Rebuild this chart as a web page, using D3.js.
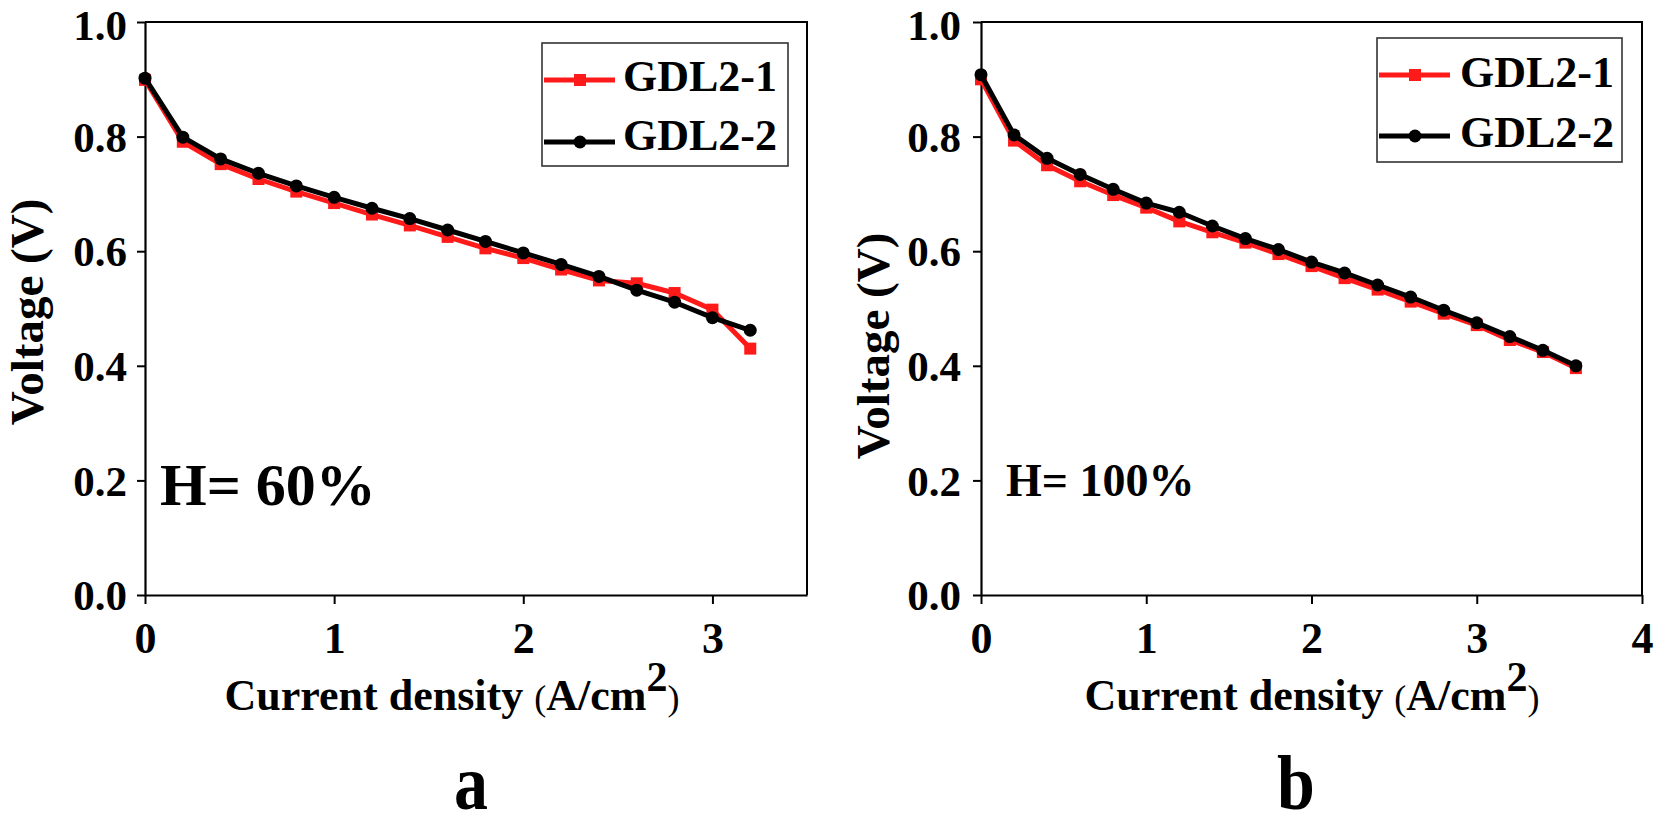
<!DOCTYPE html>
<html>
<head>
<meta charset="utf-8">
<script src="https://cdn.jsdelivr.net/npm/d3@7"></script>
<style>
  html, body { margin: 0; padding: 0; background: #fff; }
  svg { display: block; }
  text { font-family: "Liberation Serif", "Times New Roman", serif; font-weight: bold; fill: #000; }
</style>
</head>
<body>
<svg id="chart" width="1654" height="826"></svg>
<script>
// ---------- data ----------
const xA = [0, 0.2, 0.4, 0.6, 0.8, 1.0, 1.2, 1.4, 1.6, 1.8, 2.0, 2.2, 2.4, 2.6, 2.8, 3.0, 3.2];
const gdl21A = [0.899, 0.791, 0.752, 0.726, 0.704, 0.684, 0.664, 0.645, 0.625, 0.605, 0.588, 0.568, 0.549, 0.544, 0.527, 0.498, 0.430];
const gdl22A = [0.902, 0.799, 0.761, 0.736, 0.714, 0.694, 0.675, 0.657, 0.637, 0.617, 0.597, 0.577, 0.556, 0.532, 0.511, 0.484, 0.462];

const xB = [0, 0.2, 0.4, 0.6, 0.8, 1.0, 1.2, 1.4, 1.6, 1.8, 2.0, 2.2, 2.4, 2.6, 2.8, 3.0, 3.2, 3.4, 3.6];
const gdl21B = [0.900, 0.793, 0.750, 0.722, 0.698, 0.676, 0.652, 0.633, 0.615, 0.595, 0.574, 0.553, 0.533, 0.512, 0.491, 0.471, 0.445, 0.424, 0.396];
const gdl22B = [0.908, 0.803, 0.762, 0.734, 0.708, 0.684, 0.668, 0.644, 0.622, 0.603, 0.581, 0.562, 0.541, 0.520, 0.497, 0.475, 0.451, 0.427, 0.400];

const yTicks = [0, 0.2, 0.4, 0.6, 0.8, 1.0];
const xTicksA = [0, 1, 2, 3];
const xTicksB = [0, 1, 2, 3, 4];
const seriesNames = ["GDL2-1", "GDL2-2"];
const seriesColors = ["#ff1a1a", "#000000"];

// ---------- drawing ----------
const FONT = '"Liberation Serif","Times New Roman",serif';
const svg = d3.select("#chart");

function panel(cfg) {
  const x = d3.scaleLinear().domain(cfg.xDomain).range([cfg.left, cfg.right]);
  const y = d3.scaleLinear().domain([0, 1.0]).range([cfg.bottom, cfg.top]);
  const g = svg.append("g");

  // frame (top and right)
  g.append("path")
    .attr("d", `M${cfg.left},${cfg.top}H${cfg.right}V${cfg.bottom}`)
    .attr("fill", "none").attr("stroke", "#000").attr("stroke-width", 2);

  // x axis
  const gx = g.append("g").attr("transform", `translate(0,${cfg.bottom})`)
    .call(d3.axisBottom(x).tickValues(cfg.xTicks).tickFormat(d3.format("d")).tickSize(9).tickSizeOuter(0));
  gx.select(".domain").attr("stroke-width", 2.2);
  gx.selectAll(".tick line").attr("stroke-width", 2);
  gx.selectAll(".tick text").attr("y", 58).attr("dy", 0)
    .style("font-size", "44px").style("font-family", FONT).style("font-weight", "bold");

  // y axis
  const gy = g.append("g").attr("transform", `translate(${cfg.left},0)`)
    .call(d3.axisLeft(y).tickValues(yTicks).tickFormat(d3.format(".1f")).tickSize(8).tickSizeOuter(0));
  gy.select(".domain").attr("stroke-width", 2.2);
  gy.selectAll(".tick line").attr("stroke-width", 2);
  gy.selectAll(".tick text").attr("x", -cfg.yPad).attr("dy", d => d === 1.0 ? "0.40em" : "0.34em")
    .style("font-size", "43px").style("font-family", FONT).style("font-weight", "bold");
  gy.selectAll("path, line").attr("stroke", "#000");
  gx.selectAll("path, line").attr("stroke", "#000");

  // series
  const line = d3.line().x(d => x(d[0])).y(d => y(d[1]));
  cfg.series.forEach((vals, i) => {
    const pts = cfg.xs.map((v, k) => [v, vals[k]]);
    g.append("path").datum(pts)
      .attr("d", line).attr("fill", "none")
      .attr("stroke", seriesColors[i]).attr("stroke-width", 5).attr("stroke-linejoin", "round");
    if (i === 0) {
      g.selectAll(null).data(pts).enter().append("rect")
        .attr("x", d => x(d[0]) - 6).attr("y", d => y(d[1]) - 6)
        .attr("width", 12).attr("height", 12).attr("fill", seriesColors[i]);
    } else {
      g.selectAll(null).data(pts).enter().append("circle")
        .attr("cx", d => x(d[0])).attr("cy", d => y(d[1])).attr("r", 6.5)
        .attr("fill", seriesColors[i]);
    }
  });

  // legend
  const L = cfg.legend;
  g.append("rect").attr("x", L.x).attr("y", L.y).attr("width", L.w).attr("height", L.h)
    .attr("fill", "#fff").attr("stroke", "#333").attr("stroke-width", 1.6);
  seriesNames.forEach((name, i) => {
    const ly = L.lineY[i];
    g.append("line").attr("x1", L.x + 2).attr("x2", L.x + 73).attr("y1", ly).attr("y2", ly)
      .attr("stroke", seriesColors[i]).attr("stroke-width", 5);
    if (i === 0) {
      g.append("rect").attr("x", L.x + 32).attr("y", ly - 6).attr("width", 12).attr("height", 12).attr("fill", seriesColors[i]);
    } else {
      g.append("circle").attr("cx", L.x + 38).attr("cy", ly).attr("r", 6.5).attr("fill", seriesColors[i]);
    }
    g.append("text").attr("x", L.x + L.textDx).attr("y", L.textY[i])
      .style("font-size", "44px").text(name);
  });

  // y title
  g.append("text")
    .attr("transform", `translate(${cfg.yTitle[0]},${cfg.yTitle[1]}) rotate(-90)`)
    .attr("text-anchor", "middle").style("font-size", "47px").text("Voltage (V)");

  // x title
  const xt = g.append("text").attr("x", cfg.xTitle[0]).attr("y", cfg.xTitle[1])
    .attr("text-anchor", "middle").style("font-size", "44px");
  xt.append("tspan").text("Current density ");
  xt.append("tspan").style("font-size", "36px").style("font-weight", "normal").text("(");
  xt.append("tspan").text("A/cm");
  xt.append("tspan").attr("dy", -19).style("font-size", "42px").text("2");
  xt.append("tspan").attr("dy", 19).style("font-size", "36px").style("font-weight", "normal").text(")");

  // humidity annotation
  g.append("text").attr("x", cfg.hText.x).attr("y", cfg.hText.y)
    .style("font-size", cfg.hText.size + "px").text(cfg.hText.label);

  // panel letter
  g.append("text").attr("x", cfg.letter.x).attr("y", cfg.letter.y)
    .attr("text-anchor", "middle")
    .attr("transform", `translate(0,${cfg.letter.y}) scale(1,1.15) translate(0,${-cfg.letter.y})`)
    .style("font-size", "68px").text(cfg.letter.label);
}

panel({
  left: 145, right: 807, top: 22, bottom: 595,
  xDomain: [0, 3.5], xTicks: xTicksA, xs: xA, series: [gdl21A, gdl22A],
  yPad: 18,
  legend: { x: 542, y: 43, w: 246, h: 123, lineY: [80, 142], textY: [91, 150], textDx: 81 },
  yTitle: [43, 312], xTitle: [452, 710],
  hText: { x: 160, y: 505, size: 60, label: "H= 60%" },
  letter: { x: 471, y: 809, label: "a" }
});

panel({
  left: 981, right: 1642, top: 22, bottom: 595,
  xDomain: [0, 4], xTicks: xTicksB, xs: xB, series: [gdl21B, gdl22B],
  yPad: 20,
  legend: { x: 1377, y: 38, w: 245, h: 124, lineY: [75, 136], textY: [87, 147], textDx: 83 },
  yTitle: [889, 346], xTitle: [1312, 710],
  hText: { x: 1006, y: 496, size: 46, label: "H= 100%" },
  letter: { x: 1296, y: 809, label: "b" }
});
</script>
</body>
</html>
